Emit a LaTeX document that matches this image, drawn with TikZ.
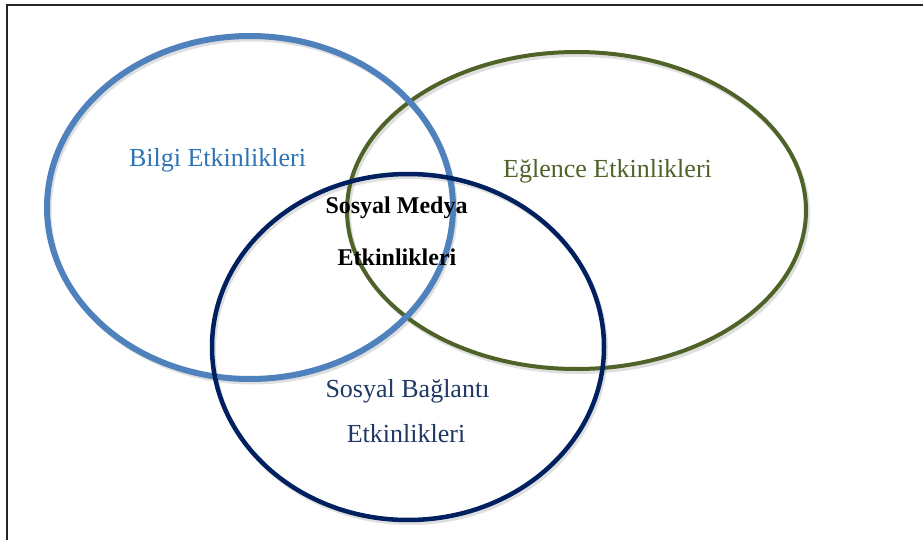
\documentclass[tikz,border=0pt]{standalone}
\usepackage{fontspec}
\setmainfont{Liberation Serif}
\definecolor{cblue}{HTML}{4F81BD}
\definecolor{cgreen}{HTML}{4F6228}
\definecolor{cnavy}{HTML}{002060}
\definecolor{tblue}{HTML}{2E74B5}
\definecolor{tnavy}{HTML}{1F3864}
\begin{document}
\begin{tikzpicture}[x=1pt,y=-1pt,
  ring/.style={line width=#1},
  shadowring/.style={draw=black!35,opacity=0.35,line width=#1},
  lbl/.style={anchor=base,inner sep=0pt,font=\fontsize{26}{30}\selectfont},
  blbl/.style={anchor=base,inner sep=0pt,font=\fontsize{24}{28}\selectfont\bfseries}]
\useasboundingbox (0,0) rectangle (923,540);
\fill[white] (0,0) rectangle (923,540);
% frame (left and top edges only visible)
\coordinate (fbl) at (7,540);
\coordinate (ftl) at (7,5.5);
\coordinate (ftr) at (923,5.5);
\draw[line width=2pt,black!85] (fbl) -- (ftl) -- (ftr);
% shadows of ellipses
\draw[shadowring=4pt] (578.5,213.5) ellipse [x radius=229.5, y radius=158.5];
\draw[shadowring=5pt] (252,210.5) ellipse [x radius=203, y radius=171.5];
\draw[shadowring=4pt] (410,350) ellipse [x radius=196, y radius=173];
% ellipses
\draw[ring=4pt,cgreen] (576.5,210.5) ellipse [x radius=229.5, y radius=158.5];
\draw[ring=6pt,cblue] (250,207.5) ellipse [x radius=203, y radius=171.5];
\draw[ring=4.5pt,cnavy] (408,347) ellipse [x radius=196, y radius=173];
% labels
\node[lbl,text=tblue] (bilgi) at (217.5,167) {Bilgi Etkinlikleri};
\node[lbl,text=cgreen] (eglence) at (607.5,178) {Eğlence Etkinlikleri};
\node[blbl,text=black] (medya1) at (396.5,214) {Sosyal Medya};
\node[blbl,text=black] (medya2) at (397,265.5) {Etkinlikleri};
\node[lbl,text=tnavy] (bag1) at (407.5,397) {Sosyal Bağlantı};
\node[lbl,text=tnavy] (bag2) at (406,442.5) {Etkinlikleri};
\end{tikzpicture}
\end{document}
